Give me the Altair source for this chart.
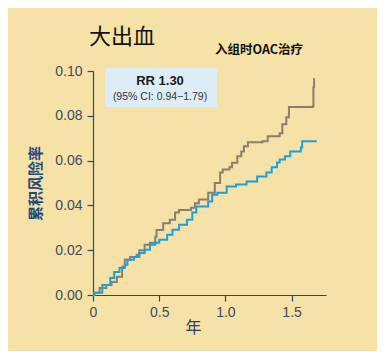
import altair as alt
import pandas as pd

# Gray curve (cumulative risk by year)
gray_t = [0, 0.01, 0.05, 0.10, 0.14, 0.18, 0.22, 0.24, 0.28, 0.33, 0.35, 0.39, 0.43, 0.47,
          0.48, 0.53, 0.58, 0.62, 0.65, 0.74, 0.77, 0.80, 0.87, 0.92, 0.96, 0.98, 1.03,
          1.05, 1.09, 1.12, 1.14, 1.17, 1.28, 1.32, 1.41, 1.43, 1.46, 1.48, 1.66, 1.665,
          1.67, 1.675]
gray_r = [0, 0.001, 0.0031, 0.0045, 0.0058, 0.0081, 0.0126, 0.0157, 0.017, 0.018, 0.020,
          0.0224, 0.0233, 0.026, 0.029, 0.032, 0.0336, 0.0368, 0.038, 0.039, 0.041, 0.0426,
          0.0457, 0.050, 0.0547, 0.056, 0.057, 0.059, 0.0619, 0.0641, 0.0664, 0.0682,
          0.0686, 0.0709, 0.0722, 0.0762, 0.0794, 0.0839, 0.0843, 0.0928, 0.0964, 0.0964]

# Blue curve
blue_t = [0, 0.01, 0.07, 0.13, 0.16, 0.20, 0.24, 0.26, 0.31, 0.35, 0.39, 0.43, 0.47, 0.50,
          0.56, 0.60, 0.65, 0.71, 0.75, 0.78, 0.87, 0.90, 0.94, 1.01, 1.08, 1.16, 1.24,
          1.31, 1.35, 1.39, 1.41, 1.45, 1.49, 1.57, 1.58, 1.69]
blue_r = [0, 0.001, 0.0045, 0.0076, 0.0103, 0.0121, 0.0135, 0.0157, 0.017, 0.0188, 0.0202,
          0.0224, 0.0233, 0.0247, 0.0269, 0.0291, 0.0314, 0.0336, 0.0368, 0.0395, 0.0417,
          0.0448, 0.0457, 0.0484, 0.0493, 0.0507, 0.0529, 0.0547, 0.057, 0.0592, 0.0605,
          0.0619, 0.0641, 0.0659, 0.0686, 0.0686]

x_ticks = [0, 0.5, 1.0, 1.5]
y_ticks = [0, 0.02, 0.04, 0.06, 0.08, 0.10]

title_text = "大出血"
subtitle_text = "入组时OAC治疗"
rr_text = "RR 1.30"
ci_text = "(95% CI: 0.94\u22121.79)"

df = pd.concat([
    pd.DataFrame({"t": gray_t, "r": gray_r, "g": "gray"}),
    pd.DataFrame({"t": blue_t, "r": blue_r, "g": "blue"}),
])

lines = alt.Chart(df).mark_line(interpolate="step-after", strokeWidth=2).encode(
    x=alt.X("t:Q", scale=alt.Scale(domain=[0, 1.76], nice=False),
            axis=alt.Axis(values=x_ticks, title="年",
                          labelExpr="datum.value == 0 ? '0' : format(datum.value, '.1f')",
                          labelFlush=False,
                          titleX=100, titleY=24, titleFont="Noto Sans CJK SC",
                          titleFontSize=16, titleFontWeight="normal", titleColor="#2f3e5c",
                          labelPadding=4)),
    y=alt.Y("r:Q", scale=alt.Scale(domain=[0, 0.1], nice=False),
            axis=alt.Axis(values=y_ticks, format=".2f", title="累积风险率",
                          labelFlush=False,
                          titleFont="Noto Sans CJK SC", titleFontSize=15,
                          titleFontWeight="bold", titleColor="#1d4a7e",
                          titlePadding=11, labelPadding=5)),
    color=alt.Color("g:N", scale=alt.Scale(domain=["gray", "blue"],
                                           range=["#8a7e70", "#1ba0dc"]), legend=None),
)

dummy = pd.DataFrame({"a": [0]})

box = alt.Chart(dummy).mark_rect(color="#dcedf8").encode(
    x=alt.value(12), x2=alt.value(124), y=alt.value(-3), y2=alt.value(36))

rr = alt.Chart(dummy).mark_text(text=rr_text, font="Liberation Sans", fontSize=13,
                                fontWeight="bold", color="#1a1a1a", align="center",
                                baseline="middle").encode(x=alt.value(67), y=alt.value(10))
ci = alt.Chart(dummy).mark_text(text=ci_text, font="Liberation Sans", fontSize=10.5,
                                color="#333333", align="center",
                                baseline="middle").encode(x=alt.value(67), y=alt.value(26))

title = alt.Chart(dummy).mark_text(text=title_text, font="Noto Sans CJK SC", fontSize=22,
                                   color="#111111", align="left",
                                   baseline="middle").encode(x=alt.value(-4), y=alt.value(-34))
subtitle = alt.Chart(dummy).mark_text(text=subtitle_text, font="Noto Sans CJK SC",
                                      fontSize=12.5, fontWeight="bold", color="#111111",
                                      align="center", baseline="middle").encode(
    x=alt.value(166), y=alt.value(-21))

chart = alt.layer(box, rr, ci, lines, title, subtitle).properties(
    width=233, height=224,
    autosize=alt.AutoSizeParams(type="none"),
    padding={"left": 85, "top": 63, "right": 51, "bottom": 56},
    background="#f6e1a6",
).configure_view(stroke=None).configure_axis(
    grid=False, domainColor="#1f4f70", tickColor="#1f4f70", tickSize=6,
    labelColor="#3d4a66", labelFontSize=14, labelFont="Liberation Sans",
    domainWidth=1.2, tickWidth=1.2,
)

chart.save("out.html", embed_options={"renderer": "svg", "actions": False})
